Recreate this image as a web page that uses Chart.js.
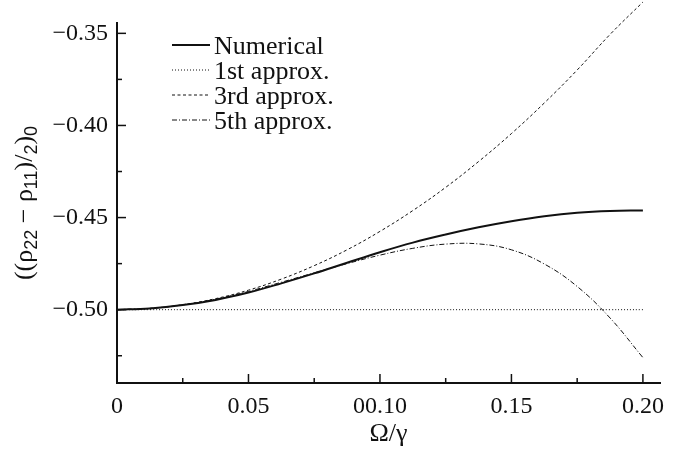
<!DOCTYPE html>
<html>
<head>
<meta charset="utf-8">
<script src="https://cdn.jsdelivr.net/npm/chart.js@4.4.1/dist/chart.umd.min.js"></script>
<style>
  html, body { margin: 0; padding: 0; background: #fff; }
  #wrap { width: 675px; height: 450px; }
</style>
</head>
<body>
<div id="wrap"><canvas id="plot"></canvas></div>
<script>
// values
const omega = [0, 0.0125, 0.025, 0.0375, 0.05, 0.0625, 0.075, 0.0875, 0.1,
               0.1125, 0.125, 0.1375, 0.15, 0.1625, 0.175, 0.1875, 0.2];
const numerical = [-0.5, -0.4993, -0.4975, -0.4947, -0.4907, -0.4857, -0.4803, -0.4745, -0.4688,
                   -0.4636, -0.4592, -0.4553, -0.4520, -0.4493, -0.4474, -0.4464, -0.4461];
const approx1 = [-0.5, -0.5, -0.5, -0.5, -0.5, -0.5, -0.5, -0.5, -0.5,
                 -0.5, -0.5, -0.5, -0.5, -0.5, -0.5, -0.5, -0.5];
const approx3 = [-0.5, -0.4993, -0.4973, -0.4940, -0.4894, -0.4834, -0.4761, -0.4675, -0.4575,
                 -0.4462, -0.4336, -0.4196, -0.4044, -0.3878, -0.3699, -0.3506, -0.333];
const approx5 = [-0.5, -0.4993, -0.4974, -0.4943, -0.4901, -0.4851, -0.4800, -0.4750, -0.4704,
                 -0.4667, -0.4644, -0.4643, -0.4675, -0.4752, -0.4874, -0.5045, -0.5260];

const xTicks = [0, 0.025, 0.05, 0.075, 0.1, 0.125, 0.15, 0.175, 0.2];
const xTickLabels = ['0', '', '0.05', '', '00.10', '', '0.15', '', '0.20'];
const yTicks = [-0.525, -0.5, -0.475, -0.45, -0.425, -0.4, -0.375, -0.35];
const yTickLabels = ['', '\u22120.50', '', '\u22120.45', '', '\u22120.40', '', '\u22120.35'];

const serif = "'Liberation Serif', 'Times New Roman', serif";
const ink = '#111';

function series(ys) {
    return omega.map((x, i) => ({ x: x, y: ys[i] }));
}

// ticks point into the plot, long ones where there is a label
const innerTicks = {
    id: 'innerTicks',
    afterDraw(chart) {
        const { ctx, chartArea, scales } = chart;
        ctx.save();
        ctx.strokeStyle = ink;
        ctx.lineWidth = 1.5;
        scales.x.ticks.forEach(t => {
            const px = scales.x.getPixelForValue(t.value);
            const len = t.label ? 9 : 5;
            ctx.beginPath();
            ctx.moveTo(px, chartArea.bottom);
            ctx.lineTo(px, chartArea.bottom - len);
            ctx.stroke();
        });
        scales.y.ticks.forEach(t => {
            const py = scales.y.getPixelForValue(t.value);
            const len = t.label ? 9 : 5;
            ctx.beginPath();
            ctx.moveTo(chartArea.left, py);
            ctx.lineTo(chartArea.left + len, py);
            ctx.stroke();
        });
        ctx.restore();
    }
};

// y title with subscripts
const yTitle = {
    id: 'yTitle',
    afterDraw(chart) {
        const ctx = chart.ctx;
        const parts = [
            ['((\u03c1', false], ['22', true], [' \u2212 \u03c1', false], ['11', true],
            [')/', false], ['2', true], [')', false], ['0', true]
        ];
        const mainFont = "26px " + serif;
        const subFont = "18px 'Liberation Sans', Arial, sans-serif";
        ctx.save();
        let total = 0;
        parts.forEach(p => {
            ctx.font = p[1] ? subFont : mainFont;
            total += ctx.measureText(p[0]).width;
        });
        ctx.translate(24, 203);
        ctx.rotate(-Math.PI / 2);
        ctx.fillStyle = ink;
        ctx.textBaseline = 'alphabetic';
        let x = -total / 2;
        parts.forEach(p => {
            ctx.font = p[1] ? subFont : mainFont;
            ctx.fillText(p[0], x, p[1] ? 13 : 8);
            x += ctx.measureText(p[0]).width;
        });
        ctx.restore();
    }
};

// legend inside the plot, top left
const boxLegend = {
    id: 'boxLegend',
    afterDraw(chart) {
        const ctx = chart.ctx;
        ctx.save();
        ctx.font = "26px " + serif;
        ctx.fillStyle = ink;
        ctx.textBaseline = 'alphabetic';
        chart.data.datasets.forEach((ds, i) => {
            const base = 54 + i * 25;
            ctx.strokeStyle = ds.borderColor;
            ctx.lineWidth = ds.borderWidth;
            ctx.setLineDash(ds.borderDash || []);
            ctx.beginPath();
            ctx.moveTo(172, base - 9);
            ctx.lineTo(210, base - 9);
            ctx.stroke();
            ctx.setLineDash([]);
            ctx.fillText(ds.label, 214, base);
        });
        ctx.restore();
    }
};

const ctx = document.getElementById('plot').getContext('2d');
new Chart(ctx, {
    type: 'line',
    data: {
        datasets: [{
            label: 'Numerical',
            data: series(numerical),
            borderColor: ink,
            borderWidth: 2
        }, {
            label: '1st approx.',
            data: series(approx1),
            borderColor: ink,
            borderWidth: 1,
            borderDash: [1, 2]
        }, {
            label: '3rd approx.',
            data: series(approx3),
            borderColor: ink,
            borderWidth: 1,
            borderDash: [3, 2.5]
        }, {
            label: '5th approx.',
            data: series(approx5),
            borderColor: ink,
            borderWidth: 1,
            borderDash: [5, 2, 1, 2]
        }]
    },
    options: {
        responsive: true,
        maintainAspectRatio: false,
        animation: false,
        layout: { padding: { top: 20, right: 15, left: 0, bottom: 0 } },
        elements: {
            point: { radius: 0 },
            line: { tension: 0.4, fill: false }
        },
        datasets: { line: { clip: false } },
        plugins: {
            legend: { display: false },
            tooltip: { enabled: false }
        },
        scales: {
            x: {
                type: 'linear',
                min: 0,
                max: 0.2065,
                afterBuildTicks: s => { s.ticks = xTicks.map(v => ({ value: v })); },
                afterFit: s => { s.height = 67; },
                grid: { display: false, drawTicks: false },
                border: { display: true, color: ink, width: 2 },
                ticks: {
                    autoSkip: false,
                    maxRotation: 0,
                    padding: 9,
                    color: ink,
                    font: { family: serif, size: 24 },
                    callback: (v, i) => xTickLabels[i]
                },
                title: {
                    display: true,
                    text: '\u03a9/\u03b3',
                    color: ink,
                    font: { family: serif, size: 26 },
                    padding: { top: 0, bottom: 0 }
                }
            },
            y: {
                type: 'linear',
                min: -0.5398,
                max: -0.3446,
                afterBuildTicks: s => { s.ticks = yTicks.map(v => ({ value: v })); },
                afterFit: s => { s.width = 117; },
                grid: { display: false, drawTicks: false },
                border: { display: true, color: ink, width: 2 },
                ticks: {
                    autoSkip: false,
                    padding: 9,
                    color: ink,
                    font: { family: serif, size: 24 },
                    callback: (v, i) => yTickLabels[i]
                }
            }
        }
    },
    plugins: [innerTicks, yTitle, boxLegend]
});
</script>
</body>
</html>
